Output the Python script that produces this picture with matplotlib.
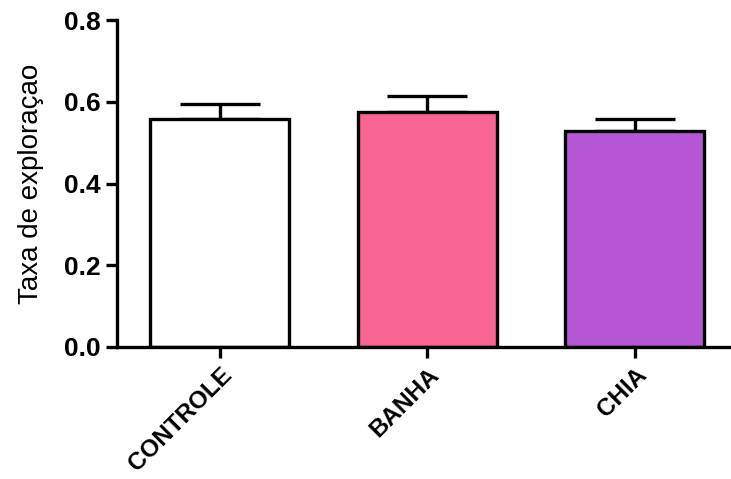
import matplotlib.pyplot as plt
import numpy as np

groups = ["CONTROLE", "BANHA", "CHIA"]
means = [0.557, 0.576, 0.529]
sem = [0.037, 0.038, 0.028]
colors = ["#FFFFFF", "#F96592", "#B556D5"]

plt.rcParams['font.family'] = ['Liberation Sans', 'DejaVu Sans']

fig = plt.figure(figsize=(7.31, 4.79), dpi=100)
ax = fig.add_axes([0.160, 0.2756, 0.840, 0.6826])

x = np.arange(len(groups))
ax.bar(x, means, width=0.67, color=colors, edgecolor="black", linewidth=2.4, zorder=2)
# upper error bars only
ax.errorbar(x, means, yerr=[np.zeros(len(sem)), sem], fmt="none", ecolor="black",
            elinewidth=2.4, capsize=29, capthick=2.4, zorder=1)

ax.set_xlim(-0.496, 2.463)
ax.set_ylim(0, 0.8)
ax.set_yticks([0.0, 0.2, 0.4, 0.6, 0.8])
ax.set_yticklabels(["0.0", "0.2", "0.4", "0.6", "0.8"], fontweight="bold", fontsize=19)
ax.set_xticks(x)
ax.set_xticklabels(groups, rotation=45, ha="right", rotation_mode="anchor",
                   fontweight="bold", fontsize=17.5)
ax.set_ylabel("Taxa de exploraçao", fontsize=20, labelpad=14)

for side in ["top", "right"]:
    ax.spines[side].set_visible(False)
for side in ["left", "bottom"]:
    ax.spines[side].set_linewidth(2.4)
ax.tick_params(axis="both", width=2.4, length=8, direction="out")
ax.tick_params(axis="y", pad=4)
ax.tick_params(axis="x", pad=4)

fig.savefig("out.png", dpi=100)
